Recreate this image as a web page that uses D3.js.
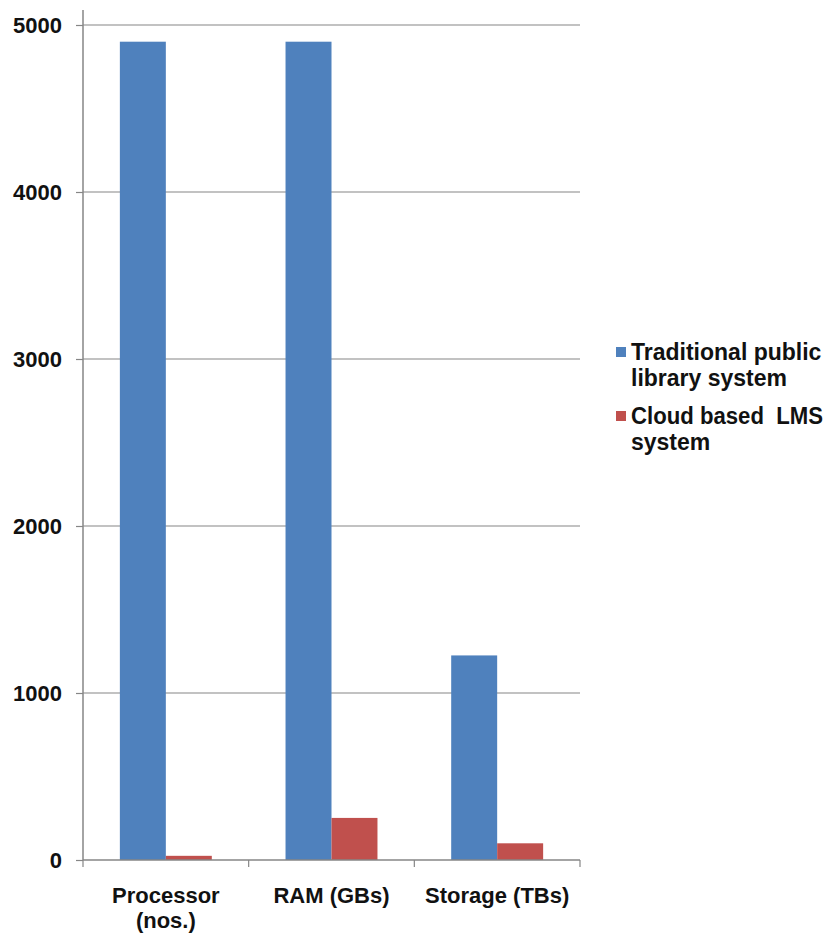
<!DOCTYPE html>
<html>
<head>
<meta charset="utf-8">
<script src="https://cdn.jsdelivr.net/npm/d3@7"></script>
<style>
  body { margin: 0; background: #fff; }
  text { font-family: Arial, "Liberation Sans", sans-serif; fill: #111; }
</style>
</head>
<body>
<script>
// chart data
const categories = [['Processor', '(nos.)'], ['RAM (GBs)'], ['Storage (TBs)']];
const seriesNames = [['Traditional public', 'library system'], ['Cloud based  LMS', 'system']];
const traditional = [4900, 4900, 1225];
const cloud = [25, 252, 100];
const yTicks = [0, 1000, 2000, 3000, 4000, 5000];
const colors = ['#4F81BD', '#C0504D'];

const W = 829, H = 935;
const plotLeft = 83, plotRight = 580, plotTop = 10, plotBottom = 860;

const svg = d3.select('body')
  .append('svg')
  .attr('width', W)
  .attr('height', H);

// scales
const y = d3.scaleLinear()
  .domain([0, 5000])
  .range([plotBottom, 25]);

const x0 = d3.scaleBand()
  .domain(d3.range(categories.length))
  .range([plotLeft, plotRight])
  .paddingInner(0.445)
  .paddingOuter(0.2225);

const x1 = d3.scaleBand()
  .domain([0, 1])
  .range([0, x0.bandwidth()]);

const grey = '#868686';

// gridlines
svg.append('g')
  .selectAll('line')
  .data(yTicks.slice(1))
  .enter()
  .append('line')
  .attr('x1', plotLeft)
  .attr('x2', plotRight)
  .attr('y1', d => y(d))
  .attr('y2', d => y(d))
  .attr('stroke', grey)
  .attr('stroke-width', 1.2);

// y axis
const yAxis = d3.axisLeft(y)
  .tickValues(yTicks)
  .tickSize(7)
  .tickPadding(14)
  .tickFormat(d3.format('d'));

const yg = svg.append('g')
  .attr('transform', `translate(${plotLeft},0)`)
  .call(yAxis);
yg.select('.domain').remove();
yg.selectAll('.tick line').attr('stroke', grey).attr('stroke-width', 1.2);
yg.selectAll('.tick text')
  .style('font-size', '22px')
  .style('font-weight', 'bold')
  .attr('fill', '#111');

svg.append('line')
  .attr('x1', plotLeft).attr('x2', plotLeft)
  .attr('y1', plotTop).attr('y2', plotBottom)
  .attr('stroke', grey)
  .attr('stroke-width', 1.5);

// bars
const data = categories.map((c, i) => [traditional[i], cloud[i]]);
const groups = svg.append('g')
  .selectAll('g')
  .data(data)
  .enter()
  .append('g')
  .attr('transform', (d, i) => `translate(${x0(i)},0)`);

groups.selectAll('rect')
  .data(d => d)
  .enter()
  .append('rect')
  .attr('x', (d, j) => x1(j))
  .attr('width', x1.bandwidth())
  .attr('y', d => y(d))
  .attr('height', d => plotBottom - y(d))
  .attr('fill', (d, j) => colors[j]);

// x axis line and ticks
svg.append('line')
  .attr('x1', plotLeft).attr('x2', plotRight)
  .attr('y1', plotBottom).attr('y2', plotBottom)
  .attr('stroke', grey)
  .attr('stroke-width', 1.5);

svg.append('g')
  .selectAll('line')
  .data(d3.range(categories.length + 1))
  .enter()
  .append('line')
  .attr('x1', i => plotLeft + i * (plotRight - plotLeft) / categories.length)
  .attr('x2', i => plotLeft + i * (plotRight - plotLeft) / categories.length)
  .attr('y1', plotBottom)
  .attr('y2', plotBottom + 7)
  .attr('stroke', grey)
  .attr('stroke-width', 1.2);

// category labels
const labels = svg.append('g')
  .selectAll('text')
  .data(categories)
  .enter()
  .append('text')
  .attr('x', (d, i) => x0(i) + x0.bandwidth() / 2)
  .attr('y', 903)
  .attr('text-anchor', 'middle')
  .style('font-size', '22px')
  .style('font-weight', 'bold');

labels.selectAll('tspan')
  .data(d => d)
  .enter()
  .append('tspan')
  .attr('x', function() { return this.parentNode.getAttribute('x'); })
  .attr('dy', (d, k) => k === 0 ? 0 : 25)
  .text(d => d);

// legend
const legendX = 616, legendW = 207;
const legend = svg.append('g')
  .attr('transform', `translate(${legendX}, 360)`);

const items = legend.selectAll('g')
  .data(seriesNames)
  .enter()
  .append('g')
  .attr('transform', (d, i) => `translate(0, ${i * 64})`);

items.append('rect')
  .attr('x', 0)
  .attr('y', -13)
  .attr('width', 10)
  .attr('height', 10)
  .attr('fill', (d, i) => colors[i]);

const ltext = items.append('text')
  .attr('x', 15)
  .attr('y', 0)
  .style('font-size', '23px')
  .style('font-weight', 'bold')
  .style('white-space', 'pre');

ltext.selectAll('tspan')
  .data(d => d)
  .enter()
  .append('tspan')
  .attr('x', 15)
  .attr('dy', (d, k) => k === 0 ? 0 : 26)
  .text(d => d)
  .each(function() {
    // squeeze a line that would run past the legend box
    const maxW = legendW - 15;
    if (this.getComputedTextLength() > maxW) {
      d3.select(this).attr('textLength', maxW).attr('lengthAdjust', 'spacingAndGlyphs');
    }
  });
</script>
</body>
</html>
